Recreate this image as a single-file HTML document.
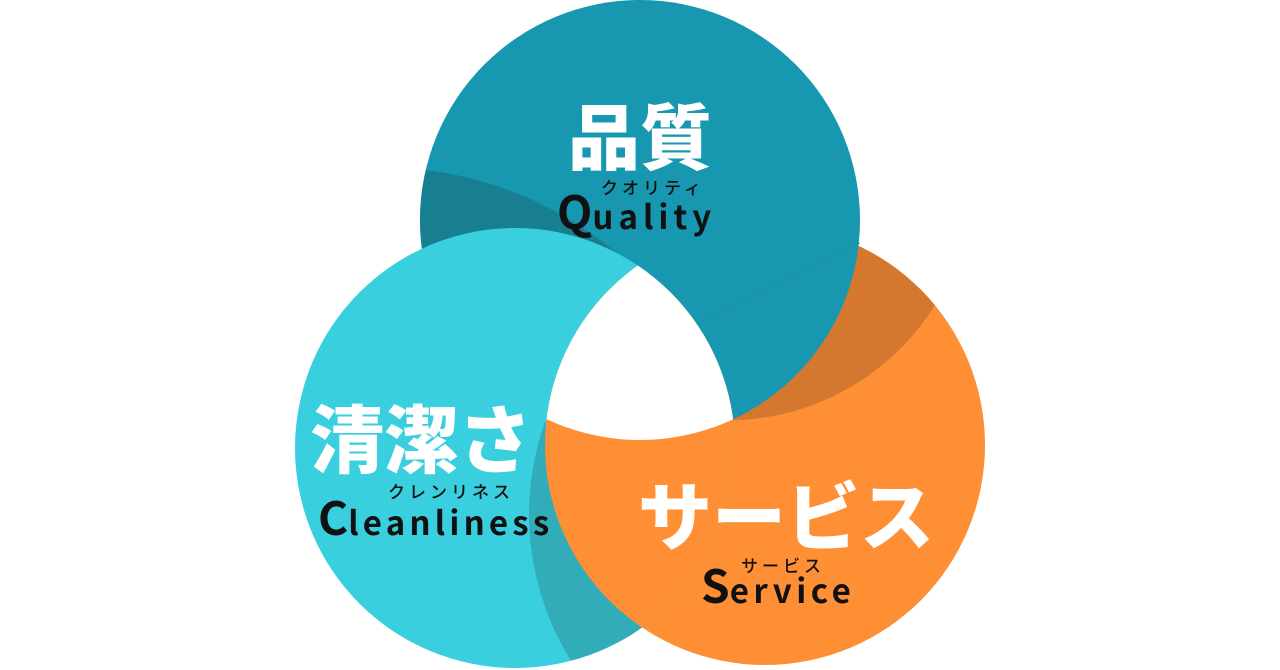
<!DOCTYPE html>
<html><head><meta charset="utf-8"><style>
html,body{margin:0;padding:0;background:#fff;}
svg{display:block;}
text{font-family:"Liberation Sans","Noto Sans CJK JP",sans-serif;font-weight:bold;}
.big{font-family:"Noto Sans CJK JP",sans-serif;font-weight:900;fill:#fff;}
.kana{font-family:"Noto Sans CJK JP",sans-serif;font-weight:500;fill:#111;font-size:17px;letter-spacing:4px;}
.en{font-family:"Noto Sans CJK JP","Liberation Sans",sans-serif;font-weight:700;fill:#111;}
</style></head><body>
<svg width="1280" height="670" viewBox="0 0 1280 670" xmlns="http://www.w3.org/2000/svg">
<defs>
<clipPath id="cT"><circle cx="640" cy="220" r="220"/></clipPath>
<clipPath id="cL"><circle cx="515" cy="448" r="220"/></clipPath>
<clipPath id="cR"><circle cx="765" cy="445" r="220"/></clipPath>
</defs>
<circle cx="765" cy="445" r="220" fill="#fe8f35"/>
<g clip-path="url(#cR)"><path d="M935,305 A245 245 0 0 1 713,420 L700,200 L1000,200 L1000,305 Z" fill="#d47830"/></g>
<circle cx="640" cy="220" r="220" fill="#1798b0"/>
<g clip-path="url(#cT)"><path d="M400,168 A360 360 0 0 1 640,275 L640,480 L400,480 Z" fill="#177f8f"/></g>
<line x1="860" y1="243" x2="683" y2="332" stroke="#2a8a96" stroke-width="0.8"/>
<circle cx="515" cy="448" r="220" fill="#3acfde"/>
<g clip-path="url(#cL)"><path d="M545,422 A275 275 0 0 0 572,662 L700,662 L700,422 Z" fill="#33acb9"/></g>
<g clip-path="url(#cL)"><circle cx="765" cy="445" r="220" fill="#fe8f35"/></g>
<g clip-path="url(#cT)"><g clip-path="url(#cL)"><circle cx="765" cy="445" r="220" fill="#fff"/></g></g>
<text class="big" x="568" y="164" font-size="72">品質</text>
<text class="kana" x="601" y="194">クオリティ</text>
<text class="en" x="557" y="229" font-size="46">Q<tspan font-size="33" letter-spacing="5">uality</tspan></text>
<text class="big" x="310" y="467" font-size="74">清潔さ</text>
<text class="kana" x="388" y="498">クレンリネス</text>
<text class="en" x="318" y="535" font-size="46">C<tspan font-size="33" letter-spacing="4.2">leanliness</tspan></text>
<text class="big" x="638" y="544" font-size="74">サービス</text>
<text class="kana" x="741" y="572">サービス</text>
<text class="en" x="701" y="603" font-size="46">S<tspan font-size="33" letter-spacing="4.5">ervice</tspan></text>
</svg>
</body></html>
